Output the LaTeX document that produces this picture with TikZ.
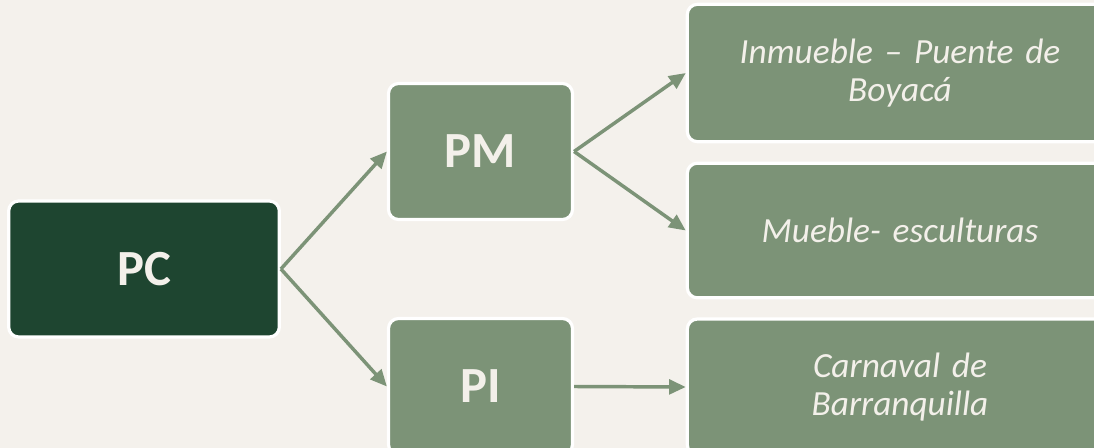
\documentclass[tikz,border=0pt]{standalone}
\usepackage{fontspec}
\setmainfont{Carlito}
\usetikzlibrary{arrows.meta}
\definecolor{bgc}{HTML}{F4F1EC}
\definecolor{darkg}{HTML}{1E4530}
\definecolor{sage}{HTML}{7C9377}
\definecolor{txtc}{HTML}{F3F0EA}
\tikzset{
  box/.style={draw=white, line width=2.4pt, rounded corners=7.5pt, fill=sage, text=txtc, inner sep=0pt, align=center},
  mainbox/.style={box, font=\bfseries\fontsize{38}{44}\selectfont},
  leafbox/.style={box, font=\itshape\fontsize{26.5}{29}\selectfont, text width=310pt},
  arr/.style={draw=sage, line width=2.6pt, -{Triangle[length=12.5pt, width=11pt]}}
}
\begin{document}
\begin{tikzpicture}[x=0.75pt, y=-0.75pt]
\fill[bgc] (0,0) rectangle (1094,448);
\useasboundingbox (0,0) rectangle (1094,448);
\clip (0,0) rectangle (1094,448);
\node[mainbox, fill=darkg, minimum width=203pt, minimum height=102pt] (pc) at (144,269) {PC};
\node[mainbox, minimum width=138pt, minimum height=102pt] (pm) at (480.5,151.5) {PM};
\node[mainbox, minimum width=138pt, minimum height=102pt] (pi) at (480.5,386.5) {PI};
\node[leafbox, minimum width=319pt, minimum height=103pt] (l1) at (900,73) {Inmueble – Puente de\\Boyacá};
\node[leafbox, minimum width=319pt, minimum height=101pt] (l2) at (900,230.5) {Mueble- esculturas};
\node[leafbox, minimum width=319pt, minimum height=102pt] (l3) at (900,387) {Carnaval de\\Barranquilla};
\draw[arr] (pc.east) -- (pm.west);
\draw[arr] (pc.east) -- (pi.west);
\draw[arr] (pm.east) -- (l1.west);
\draw[arr] (pm.east) -- (l2.west);
\draw[arr] (pi.east) -- (l3.west);
\end{tikzpicture}
\end{document}
